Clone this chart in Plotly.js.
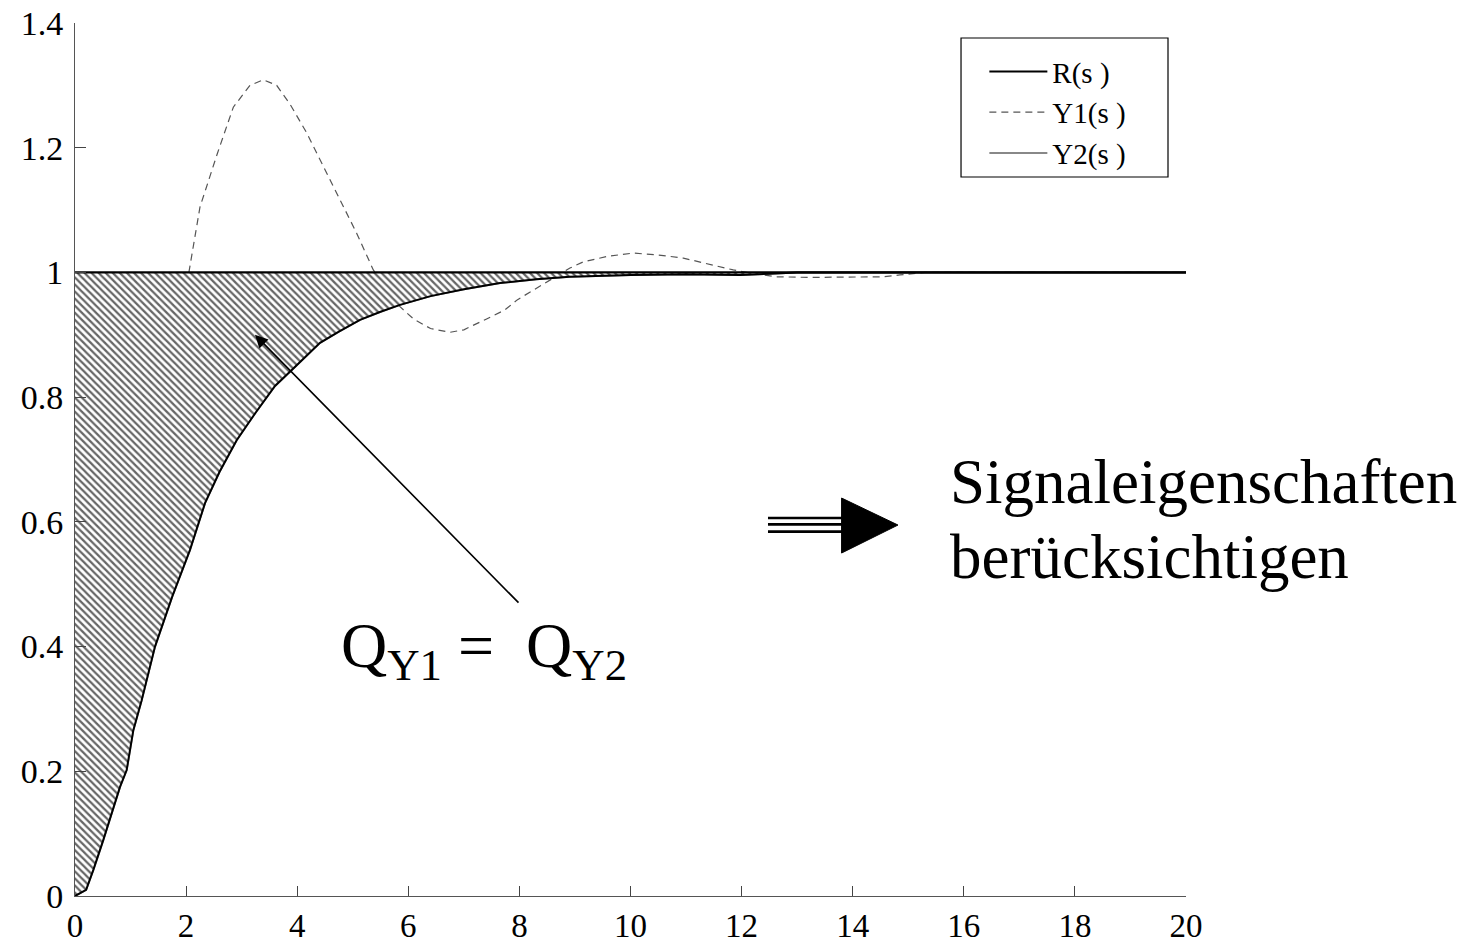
<!DOCTYPE html>
<html>
<head>
<meta charset="utf-8">
<script src="https://cdn.plot.ly/plotly-3.0.1.min.js"></script>
<style>html,body{margin:0;padding:0;background:#fff;}#chart{width:1477px;height:943px;}</style>
</head>
<body>
<div id="chart"></div>
<script>
// Reference signal R(s)
const rX = [0, 20];
const rY = [1, 1];

// Y1(s) (dashed, overshooting response) - visible part
const y1X = [2.05, 2.25, 2.56, 2.85, 3.15, 3.39, 3.63, 3.87, 4.17, 4.47, 4.77, 5.07, 5.37, 5.6, 5.85, 6.1, 6.4, 6.75, 7.0, 7.4, 7.74, 7.96, 8.25, 8.6, 8.91, 9.15, 9.6, 10.05, 10.5, 10.95, 11.4, 11.85, 12.3, 12.64, 13.2, 14.0, 14.55, 14.85, 15.3, 16, 18, 20];
const y1Y = [1.0, 1.105, 1.19, 1.265, 1.30, 1.309, 1.30, 1.27, 1.224, 1.17, 1.116, 1.063, 1.004, 0.975, 0.945, 0.925, 0.91, 0.904, 0.908, 0.925, 0.94, 0.956, 0.972, 0.99, 1.007, 1.017, 1.026, 1.031, 1.028, 1.023, 1.014, 1.004, 0.997, 0.993, 0.992, 0.992, 0.993, 0.996, 1.0, 1.0, 1.0, 1.0];

// Y2(s) (smooth response bounding the hatched area)
const y2X = [0, 0.2, 0.33, 0.51, 0.81, 0.93, 1.05, 1.2, 1.44, 1.75, 2.07, 2.25, 2.34, 2.6, 2.91, 3.25, 3.6, 4.0, 4.41, 4.75, 5.13, 5.5, 5.85, 6.4, 7.0, 7.65, 8.3, 8.9, 10.0, 11.0, 11.97, 12.5, 13.0, 16, 20];
const y2Y = [0, 0.01, 0.042, 0.09, 0.175, 0.202, 0.266, 0.314, 0.40, 0.48, 0.555, 0.605, 0.63, 0.68, 0.731, 0.775, 0.818, 0.852, 0.887, 0.905, 0.924, 0.937, 0.948, 0.962, 0.973, 0.983, 0.989, 0.993, 0.996, 0.997, 0.996, 0.998, 1.0, 1.0, 1.0];

const xTicks = [0, 2, 4, 6, 8, 10, 12, 14, 16, 18, 20];
const yTicks = [0, 0.2, 0.4, 0.6, 0.8, 1, 1.2, 1.4];

const serif = '"Liberation Serif", "Times New Roman", serif';

const traces = [
  {x: y2X, y: y2Y, mode: 'lines', name: 'Y2(s )', line: {color: '#888', width: 2}, legendrank: 3, hoverinfo: 'skip'},
  {x: y1X, y: y1Y, mode: 'lines', name: 'Y1(s )', line: {color: '#555', width: 1.2, dash: '7px,5px'}, legendrank: 2, hoverinfo: 'skip'},
  {x: rX, y: rY, mode: 'lines', name: 'R(s )', line: {color: '#000', width: 2.2}, legendrank: 1, hoverinfo: 'skip'},
  {x: y2X, y: y2Y, mode: 'lines', showlegend: false, line: {color: '#000', width: 2}, fill: 'tonexty',
   fillcolor: 'rgba(0,0,0,0)',
   fillpattern: {shape: '\\', size: 5, solidity: 0.45, fgcolor: '#666666', bgcolor: '#ffffff'}, hoverinfo: 'skip'}
];

const layout = {
  width: 1477, height: 943,
  margin: {l: 75, r: 291, t: 23, b: 47},
  paper_bgcolor: '#fff', plot_bgcolor: '#fff',
  font: {family: serif, color: '#000'},
  showlegend: true,
  legend: {x: 0.8185, y: 0.9735, xanchor: 'left', yanchor: 'top', borderwidth: 0, traceorder: 'normal',
           bgcolor: 'rgba(0,0,0,0)', font: {family: serif, size: 29, color: '#000'}, tracegroupgap: 0, itemwidth: 58},
  xaxis: {range: [0, 20], tickvals: xTicks, ticks: 'inside', ticklen: 10, tickcolor: '#444',
          showline: true, linecolor: '#555', linewidth: 1, showgrid: false, zeroline: false,
          tickfont: {family: serif, size: 33}, fixedrange: true},
  yaxis: {range: [0, 1.4], tickvals: yTicks, ticks: 'inside', ticklen: 11, tickcolor: '#444',
          showline: true, linecolor: '#555', linewidth: 1, showgrid: false, zeroline: false,
          ticklabelstandoff: 4,
          tickfont: {family: serif, size: 34}, fixedrange: true},
  annotations: [
    {x: 3.24, y: 0.90, ax: 8.01, ay: 0.468, xref: 'x', yref: 'y', axref: 'x', ayref: 'y', text: '',
     showarrow: true, arrowhead: 2, arrowsize: 1.6, arrowwidth: 1.6, arrowcolor: '#000', standoff: 0},
    {x: 7.36, y: 0.394, xref: 'x', yref: 'y', text: 'Q<sub>Y1</sub> =  Q<sub>Y2</sub>', showarrow: false,
     font: {family: serif, size: 64, color: '#000'}},
    {x: 0.786, y: 0.4742, xref: 'paper', yref: 'paper', xanchor: 'left', align: 'left',
     text: 'Signaleigenschaften', showarrow: false,
     font: {family: serif, size: 63, color: '#000'}},
    {x: 0.786, y: 0.3883, xref: 'paper', yref: 'paper', xanchor: 'left', align: 'left',
     text: 'berücksichtigen', showarrow: false,
     font: {family: serif, size: 63, color: '#000'}}
  ],
  shapes: [
    {type: 'rect', xref: 'paper', yref: 'paper', x0: 0.7975, x1: 0.9838, y0: 0.8236, y1: 0.9828,
     line: {color: '#000', width: 1.2}, fillcolor: 'rgba(0,0,0,0)'},
    {type: 'line', xref: 'x', yref: 'y', x0: 12.475, x1: 13.825, y0: 0.6062, y1: 0.6062, line: {color: '#000', width: 2.7}},
    {type: 'line', xref: 'x', yref: 'y', x0: 12.475, x1: 13.825, y0: 0.5960, y1: 0.5960, line: {color: '#000', width: 2.7}},
    {type: 'line', xref: 'x', yref: 'y', x0: 12.475, x1: 13.825, y0: 0.5842, y1: 0.5842, line: {color: '#000', width: 2.7}},
    {type: 'path', xref: 'x', yref: 'y', path: 'M 13.8 0.6382 L 13.8 0.5500 L 14.815 0.5949 Z', fillcolor: '#000', line: {color: '#000', width: 1}}
  ]
};

Plotly.newPlot('chart', traces, layout, {displayModeBar: false, staticPlot: true});
</script>
</body>
</html>
